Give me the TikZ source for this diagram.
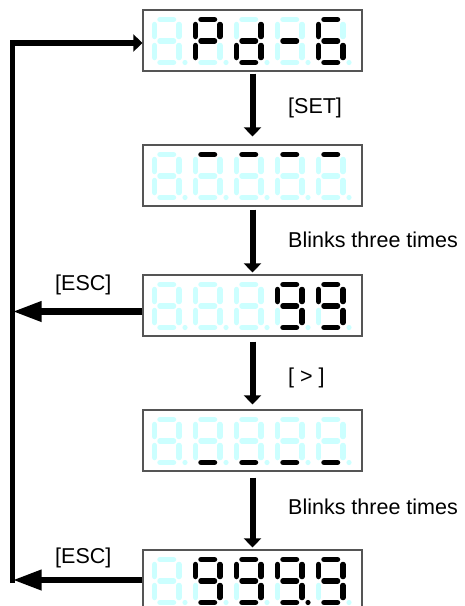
\documentclass[tikz,border=0pt]{standalone}
\usepackage{fontspec}
\setmainfont{Liberation Sans}
\usetikzlibrary{arrows.meta}
\definecolor{segoff}{RGB}{204,255,255}
\definecolor{boxline}{RGB}{85,85,85}
\tikzset{
  segon/.style={draw=black, line width=5.5pt, line cap=round},
  segoffst/.style={draw=segoff, line width=5.5pt, line cap=round},
  dispbox/.style={draw=boxline, line width=1.2pt, fill=none, minimum width=219pt, minimum height=61pt, inner sep=0pt},
  darrow/.style={draw=black, line width=6pt, -{Triangle[length=9pt,width=17pt]}},
  escarrow/.style={draw=black, line width=6.5pt, -{Triangle[length=29pt,width=19pt]}},
  loopline/.style={draw=black, line width=5.5pt, line join=miter, -{Triangle[length=9pt,width=17pt]}},
  lbl/.style={inner sep=0pt, font=\fontsize{21.5}{26}\selectfont, anchor=base west}
}
\newcommand\segline[3]{\ifnum#1=1 \draw[segon] #2 -- #3;\else\draw[segoffst] #2 -- #3;\fi}
\newcommand\segdot[2]{\ifnum#1=1 \fill[black] #2 circle[radius=2.6pt];\else\fill[segoff] #2 circle[radius=2.6pt];\fi}
\newcommand\sdig[9]{%
  \begin{scope}[shift={#1}]
    \segline{#2}{(5.5,9.5)}{(19,9.5)}
    \segline{#3}{(24.5,14.5)}{(24.5,26.5)}
    \segline{#4}{(24.5,35.5)}{(24.5,47.5)}
    \segline{#5}{(5.5,52.5)}{(19,52.5)}
    \segline{#6}{(0,35.5)}{(0,47.5)}
    \segline{#7}{(0,14.5)}{(0,26.5)}
    \segline{#8}{(5.5,31)}{(19,31)}
    \segdot{#9}{(30.5,52.5)}
  \end{scope}}
\begin{document}
\begin{tikzpicture}[x=1pt, y=-1pt]
\fill[white] (0,0) rectangle (464,606);
\useasboundingbox (0,0) rectangle (464,606);

% display boxes
\node[dispbox] (d1) at (252.5,40.5) {};
\node[dispbox] (d2) at (252.5,175.5) {};
\node[dispbox] (d3) at (252.5,305.5) {};
\node[dispbox] (d4) at (252.5,440.5) {};
\node[dispbox] (d5) at (252.5,580.5) {};

% display 1: -Pd-6
\sdig{(154.5,10)}00000000
\sdig{(195.5,10)}11001110
\sdig{(236.5,10)}01111010
\sdig{(277.5,10)}00000010
\sdig{(318.5,10)}10111110

% display 2: top segments
\sdig{(154.5,145)}00000000
\sdig{(195.5,145)}10000000
\sdig{(236.5,145)}10000000
\sdig{(277.5,145)}10000000
\sdig{(318.5,145)}10000000

% display 3: 99
\sdig{(154.5,275)}00000000
\sdig{(195.5,275)}00000000
\sdig{(236.5,275)}00000000
\sdig{(277.5,275)}11110110
\sdig{(318.5,275)}11110110

% display 4: bottom segments
\sdig{(154.5,410)}00000000
\sdig{(195.5,410)}00010000
\sdig{(236.5,410)}00010000
\sdig{(277.5,410)}00010000
\sdig{(318.5,410)}00010000

% display 5: 999.9
\sdig{(154.5,550)}00000000
\sdig{(195.5,550)}11110110
\sdig{(236.5,550)}11110110
\sdig{(277.5,550)}11110111
\sdig{(318.5,550)}11110110

% down arrows
\draw[darrow, shorten <=2pt, shorten >=8pt] (d1.south) -- (d2.north);
\draw[darrow, shorten <=3pt, shorten >=2pt] (d2.south) -- (d3.north);
\draw[darrow, shorten <=5pt, shorten >=5pt] (d3.south) -- (d4.north);
\draw[darrow, shorten <=6pt, shorten >=2pt] (d4.south) -- (d5.north);

% labels
\node[lbl] (tset) at (288,113) {[SET]};
\node[lbl] (tbl1) at (288,247) {Blinks three times};
\node[lbl] (tgt) at (288,383) {[ > ]};
\node[lbl] (tbl2) at (288,514) {Blinks three times};
\node[lbl] (tesc1) at (55,290) {[ESC]};
\node[lbl] (tesc2) at (55,563) {[ESC]};

% loop back
\coordinate (ctop) at (12.5,43);
\coordinate (e1) at (12.5,311.5);
\coordinate (e2) at (12.5,580);
\coordinate (cbot) at (12.5,583);
\draw[loopline] (cbot) -- (ctop) -- (d1.west |- ctop);
\draw[escarrow] (d3.west |- e1) -- (e1);
\draw[escarrow] (d5.west |- e2) -- (e2);
\end{tikzpicture}
\end{document}
